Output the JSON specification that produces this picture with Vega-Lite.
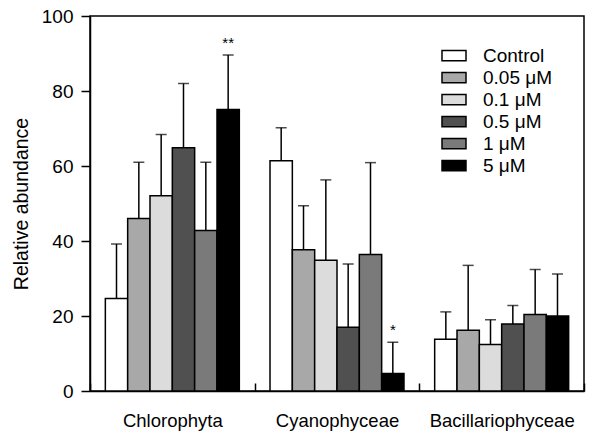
{
  "$schema": "https://vega.github.io/schema/vega-lite/v6.json",
  "width": 494,
  "height": 375,
  "autosize": {"type": "none"},
  "padding": {"left": 90, "top": 16, "right": 5, "bottom": 40},
  "config": {
    "view": {"stroke": "black", "strokeWidth": 1.5},
    "font": "Liberation Sans",
    "axis": {"grid": false, "domainColor": "black", "domainWidth": 1.5, "tickColor": "black", "tickWidth": 1.5, "labelColor": "black", "titleColor": "black"}
  },
  "data": {
    "values": [
      {"group": "Chlorophyta", "treatment": "Control", "value": 24.7, "upper": 39.2, "sig": ""},
      {"group": "Chlorophyta", "treatment": "0.05 μM", "value": 46.0, "upper": 61.0, "sig": ""},
      {"group": "Chlorophyta", "treatment": "0.1 μM", "value": 52.1, "upper": 68.4, "sig": ""},
      {"group": "Chlorophyta", "treatment": "0.5 μM", "value": 64.9, "upper": 82.0, "sig": ""},
      {"group": "Chlorophyta", "treatment": "1 μM", "value": 42.8, "upper": 61.0, "sig": ""},
      {"group": "Chlorophyta", "treatment": "5 μM", "value": 75.1, "upper": 89.6, "sig": "**"},
      {"group": "Cyanophyceae", "treatment": "Control", "value": 61.4, "upper": 70.2, "sig": ""},
      {"group": "Cyanophyceae", "treatment": "0.05 μM", "value": 37.7, "upper": 49.4, "sig": ""},
      {"group": "Cyanophyceae", "treatment": "0.1 μM", "value": 34.9, "upper": 56.3, "sig": ""},
      {"group": "Cyanophyceae", "treatment": "0.5 μM", "value": 17.0, "upper": 33.9, "sig": ""},
      {"group": "Cyanophyceae", "treatment": "1 μM", "value": 36.4, "upper": 60.9, "sig": ""},
      {"group": "Cyanophyceae", "treatment": "5 μM", "value": 4.7, "upper": 13.0, "sig": "*"},
      {"group": "Bacillariophyceae", "treatment": "Control", "value": 13.8, "upper": 21.1, "sig": ""},
      {"group": "Bacillariophyceae", "treatment": "0.05 μM", "value": 16.2, "upper": 33.5, "sig": ""},
      {"group": "Bacillariophyceae", "treatment": "0.1 μM", "value": 12.4, "upper": 19.0, "sig": ""},
      {"group": "Bacillariophyceae", "treatment": "0.5 μM", "value": 17.9, "upper": 22.8, "sig": ""},
      {"group": "Bacillariophyceae", "treatment": "1 μM", "value": 20.4, "upper": 32.4, "sig": ""},
      {"group": "Bacillariophyceae", "treatment": "5 μM", "value": 20.0, "upper": 31.2, "sig": ""}
    ]
  },
  "encoding": {
    "x": {
      "field": "group", "type": "nominal",
      "sort": ["Chlorophyta", "Cyanophyceae", "Bacillariophyceae"],
      "scale": {"paddingInner": 0, "paddingOuter": 0},
      "axis": {"title": null, "labelAngle": 0, "labelFontSize": 18.5, "tickBand": "extent", "tickSize": -8, "labelPadding": 28}
    },
    "xOffset": {
      "field": "treatment", "type": "nominal",
      "sort": ["Control", "0.05 μM", "0.1 μM", "0.5 μM", "1 μM", "5 μM"],
      "scale": {"paddingInner": 0, "paddingOuter": 0.687}
    }
  },
  "layer": [
    {
      "mark": {"type": "rule", "stroke": "black", "strokeWidth": 1.5},
      "encoding": {
        "y": {"field": "value", "type": "quantitative", "scale": {"domain": [0, 100]}, "axis": {"title": "Relative abundance"}},
        "y2": {"field": "upper"}
      }
    },
    {
      "mark": {"type": "tick", "orient": "horizontal", "color": "black", "size": 11, "thickness": 1.5},
      "encoding": {
        "y": {"field": "upper", "type": "quantitative", "axis": {"title": "Relative abundance"}}
      }
    },
    {
      "mark": {"type": "bar", "stroke": "black", "strokeWidth": 1.5},
      "encoding": {
        "y": {
          "field": "value", "type": "quantitative",
          "axis": {
            "title": "Relative abundance",
            "values": [0, 10, 20, 30, 40, 50, 60, 70, 80, 90, 100],
            "labelExpr": "datum.value % 20 === 0 ? datum.label : ''",
            "tickSize": 9, "labelPadding": 8, "labelFontSize": 19,
            "titleFontSize": 19.5, "titleFontWeight": "normal", "titlePadding": 10
          }
        },
        "fill": {
          "field": "treatment", "type": "nominal",
          "sort": ["Control", "0.05 μM", "0.1 μM", "0.5 μM", "1 μM", "5 μM"],
          "scale": {"domain": ["Control", "0.05 μM", "0.1 μM", "0.5 μM", "1 μM", "5 μM"], "range": ["#ffffff", "#a8a8a8", "#dcdcdc", "#505050", "#7a7a7a", "#000000"]},
          "legend": {
            "title": null, "orient": "none", "legendX": 351, "legendY": 29, "padding": 0,
            "symbolType": "M-1,-0.42H1V0.42H-1Z", "symbolSize": 576,
            "symbolStrokeColor": "black", "symbolStrokeWidth": 1.5, "symbolOpacity": 1,
            "labelFontSize": 19, "labelColor": "black", "labelOffset": 16, "rowPadding": 0, "clipHeight": 21.3
          }
        }
      }
    },
    {
      "transform": [{"filter": "datum.sig != ''"}],
      "mark": {"type": "text", "fontSize": 15, "color": "black", "baseline": "middle", "dy": -12},
      "encoding": {
        "y": {"field": "upper", "type": "quantitative"},
        "text": {"field": "sig"}
      }
    }
  ]
}
